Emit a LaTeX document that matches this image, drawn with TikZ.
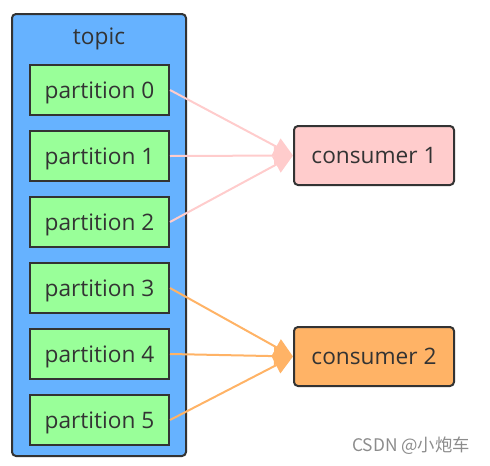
\documentclass[tikz,border=0pt]{standalone}
\usepackage{fontspec}
\setmainfont{Open Sans}
\newfontfamily\cjk{Noto Sans CJK SC}
\usetikzlibrary{arrows.meta,positioning,backgrounds}
\definecolor{topicblue}{HTML}{66B2FF}
\definecolor{partgreen}{HTML}{99FF99}
\definecolor{pinkish}{HTML}{FFCCCC}
\definecolor{orangish}{HTML}{FFB366}
\definecolor{edge}{HTML}{333333}
\tikzstyle{box}=[draw=edge,line width=1.5pt,text=edge,font=\fontsize{17}{20}\selectfont,inner sep=0pt,text depth=0pt]
\tikzstyle{part}=[box,fill=partgreen,minimum width=104.25pt,minimum height=37.5pt]
\tikzstyle{cons}=[box,rounded corners=3pt,minimum width=120pt,minimum height=44.25pt]
\tikzstyle{feed}=[-{Triangle[length=14.25pt,width=13.5pt]},line width=1.5pt]

\begin{document}
\begin{tikzpicture}[x=0.75pt, y=-0.75pt, node distance=49.5pt, on grid]
  \useasboundingbox (0,0) rectangle (490,465);

  \node[box, fill=topicblue, rounded corners=3pt, minimum width=130.5pt,
        minimum height=331.5pt] (topic) at (99,235) {};
  \node[box, draw=none] (tname) at (99,36) {topic};

  \node[part] (p0) at (99.5,90) {partition 0};
  \node[part, below=of p0] (p1) {partition 1};
  \node[part, below=of p1] (p2) {partition 2};
  \node[part, below=of p2] (p3) {partition 3};
  \node[part, below=of p3] (p4) {partition 4};
  \node[part, below=of p4] (p5) {partition 5};

  \node[cons, fill=pinkish] (c1) at (374,155.5) {consumer 1};
  \node[cons, fill=orangish] (c2) at (374,356.5) {consumer 2};

  \foreach \p in {p0,p1,p2}
    \draw[feed, pinkish] (\p.east) -- (c1.west);
  \foreach \p in {p3,p4,p5}
    \draw[feed, orangish] (\p.east) -- (c2.west);

  \node[text=black!45, font=\cjk\fontsize{13}{15}\selectfont] (mark) at (411,446) {CSDN @小炮车};
\end{tikzpicture}
\end{document}
